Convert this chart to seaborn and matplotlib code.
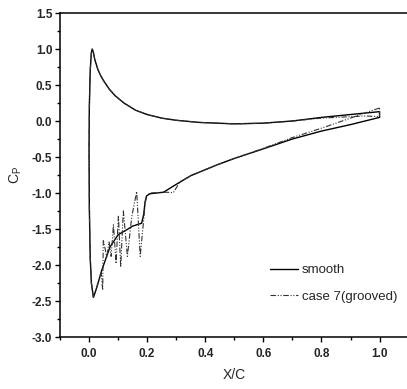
import matplotlib
matplotlib.use("Agg")
import matplotlib.pyplot as plt
import seaborn as sns
import numpy as np
from matplotlib.ticker import MultipleLocator, FormatStrFormatter

# ── Data ───────────────────────────────────────────────────────────
# smooth airfoil: lower surface TE -> LE, then upper surface LE -> TE
smooth_x = [1.0, 0.95, 0.9, 0.8, 0.7, 0.59, 0.5, 0.44, 0.35, 0.3, 0.256, 0.21,
            0.198, 0.193, 0.188, 0.181, 0.15, 0.13, 0.10, 0.072, 0.044, 0.025,
            0.015, 0.008, 0.004, 0.001, 0.0, 0.001, 0.004, 0.008, 0.011,
            0.015, 0.02, 0.03, 0.04, 0.05, 0.06, 0.07, 0.09, 0.12, 0.16, 0.2,
            0.25, 0.3, 0.38, 0.5, 0.6, 0.7, 0.8, 0.9, 0.95, 1.0, 1.0]
smooth_cp = [0.05, 0.0, -0.05, -0.14, -0.25, -0.40, -0.52, -0.61, -0.76, -0.88,
             -0.99, -1.01, -1.04, -1.12, -1.30, -1.42, -1.46, -1.51, -1.58, -1.75,
             -2.07, -2.33, -2.45, -2.25, -1.9, -1.2, -0.4, 0.2, 0.7, 0.95, 1.0,
             0.95, 0.85, 0.72, 0.63, 0.56, 0.5, 0.44, 0.35, 0.25, 0.15, 0.09,
             0.04, 0.01, -0.02, -0.04, -0.03, 0.0, 0.05, 0.09, 0.11, 0.13, 0.05]

# grooved case: same loop with oscillations on the lower surface
grooved_x = [1.0, 0.97, 0.9, 0.8, 0.7, 0.6, 0.5, 0.44, 0.35, 0.32, 0.313, 0.30,
             0.29, 0.27, 0.25, 0.21, 0.198, 0.193, 0.187, 0.176, 0.164, 0.147,
             0.132, 0.118, 0.109, 0.101, 0.093, 0.084, 0.076, 0.069, 0.061,
             0.049, 0.047, 0.042, 0.025, 0.015, 0.008, 0.004, 0.001, 0.0,
             0.001, 0.004, 0.008, 0.011, 0.015, 0.02, 0.03, 0.04, 0.05, 0.06,
             0.07, 0.09, 0.12, 0.16, 0.2, 0.25, 0.3, 0.38, 0.5, 0.6, 0.7, 0.8,
             0.9, 0.95, 1.0, 1.0]
grooved_cp = [0.18, 0.14, 0.04, -0.10, -0.23, -0.38, -0.52, -0.61, -0.76, -0.83,
              -0.84, -0.93, -0.995, -0.99, -0.99, -1.0, -1.04, -1.15, -1.42, -1.88,
              -0.98, -1.33, -1.88, -1.24, -2.03, -1.31, -1.98, -1.44, -1.88, -1.68,
              -1.89, -1.65, -2.35, -2.12, -2.33, -2.45, -2.25, -1.9, -1.2, -0.4,
              0.2, 0.7, 0.95, 1.0, 0.95, 0.85, 0.72, 0.63, 0.56, 0.5,
              0.44, 0.35, 0.25, 0.15, 0.09, 0.04, 0.01, -0.02, -0.04, -0.03, 0.0, 0.04,
              0.06, 0.07, 0.06, 0.18]

x_ticks = [0.0, 0.2, 0.4, 0.6, 0.8, 1.0]
y_ticks = [-3.0, -2.5, -2.0, -1.5, -1.0, -0.5, 0.0, 0.5, 1.0, 1.5]

# ── Style ───────────────────────────────────────────────────────────
sns.set_style("ticks")
plt.rcParams["font.family"] = ["Liberation Sans", "DejaVu Sans"]
plt.rcParams["mathtext.fontset"] = "custom"
plt.rcParams["mathtext.rm"] = "Liberation Sans"

W, H = 407, 389
fig = plt.figure(figsize=(W / 100, H / 100), dpi=100)
# axes: x from -0.1 (px 60) to 1.1 (px ~408.6), y from -3.0 (px 337) to 1.5 (px 13)
ax = fig.add_axes([60 / W, 1 - 337 / H, 348.6 / W, 324 / H])

sns.lineplot(x=smooth_x, y=smooth_cp, ax=ax, sort=False, estimator=None,
             color="black", lw=1.0, label="smooth")
sns.lineplot(x=grooved_x, y=grooved_cp, ax=ax, sort=False, estimator=None,
             color="#333333", lw=0.8, label="case 7(grooved)",
             linestyle=(0, (5, 1.5, 1, 1.5, 1, 1.5)))

ax.set_xlim(-0.1, 1.1)
ax.set_ylim(-3.0, 1.5)
ax.set_xticks(x_ticks)
ax.set_yticks(y_ticks)
ax.xaxis.set_minor_locator(MultipleLocator(0.1))
ax.yaxis.set_minor_locator(MultipleLocator(0.25))
ax.yaxis.set_major_formatter(FormatStrFormatter("%.1f"))
ax.xaxis.set_major_formatter(FormatStrFormatter("%.1f"))

for lab in ax.get_xticklabels() + ax.get_yticklabels():
    lab.set_fontweight("bold")
    lab.set_fontsize(8.5)
ax.tick_params(axis="both", which="major", direction="out", width=1.0,
               length=3.5, color="black")
ax.tick_params(axis="x", which="major", pad=4.5)
ax.tick_params(axis="y", which="major", pad=2)
ax.tick_params(axis="both", which="minor", direction="out", width=1.0,
               length=2.2, color="black")

for side in ["left", "bottom", "top", "right"]:
    ax.spines[side].set_visible(True)
    ax.spines[side].set_linewidth(1.1)
    ax.spines[side].set_color("black")

ax.set_xlabel("X/C", fontsize=10, labelpad=6)
ax.set_ylabel(r"$\mathregular{C_P}$", fontsize=10, labelpad=6)

ax.legend(loc="center left", bbox_to_anchor=(0.602, 0.165), frameon=False,
          fontsize=9.5, handlelength=2.1, handletextpad=0.3,
          labelspacing=1.1, borderpad=0, borderaxespad=0)

fig.savefig("out.png", dpi=100)
